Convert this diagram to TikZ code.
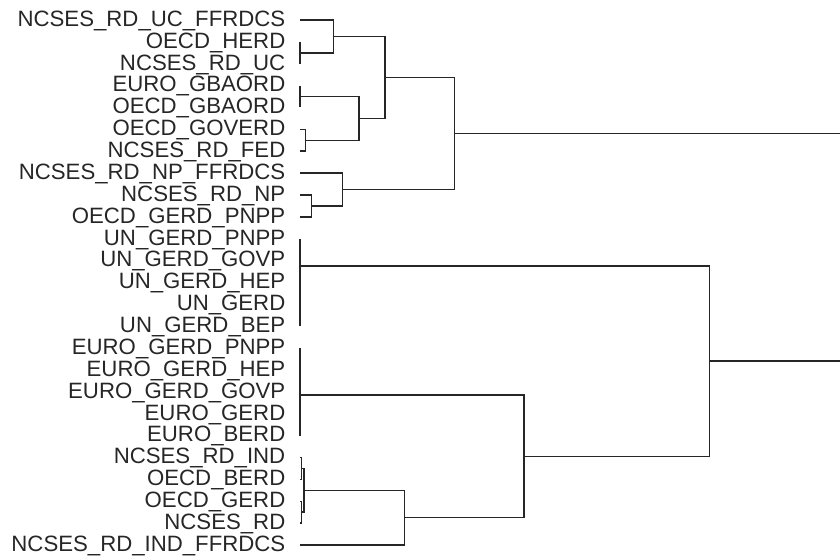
\documentclass[tikz,border=0pt]{standalone}
\usepackage{fontspec}
\setmainfont{Liberation Sans}
\begin{document}
\begin{tikzpicture}[x=1pt,y=-1pt,
  lbl/.style={anchor=east,inner sep=0pt,font=\fontsize{22.2}{22}\selectfont,text=black!85},
  link/.style={draw=black!85,line width=1.5pt}]
\useasboundingbox (0,0) rectangle (840,556);
% leaves
\foreach \i/\t in {1/NCSES\_RD\_UC\_FFRDCS,2/OECD\_HERD,3/NCSES\_RD\_UC,4/EURO\_GBAORD,5/OECD\_GBAORD,6/OECD\_GOVERD,7/NCSES\_RD\_FED,8/NCSES\_RD\_NP\_FFRDCS,9/NCSES\_RD\_NP,10/OECD\_GERD\_PNPP,11/UN\_GERD\_PNPP,12/UN\_GERD\_GOVP,13/UN\_GERD\_HEP,14/UN\_GERD,15/UN\_GERD\_BEP,16/EURO\_GERD\_PNPP,17/EURO\_GERD\_HEP,18/EURO\_GERD\_GOVP,19/EURO\_GERD,20/EURO\_BERD,21/NCSES\_RD\_IND,22/OECD\_BERD,23/OECD\_GERD,24/NCSES\_RD,25/NCSES\_RD\_IND\_FFRDCS}{
  \pgfmathsetmacro{\yy}{20+(\i-1)*21.875}
  \coordinate (L\i) at (300,\yy);
  \node[lbl] (t\i) at (285.5,\yy+0.8) {\t};
}
% merge points
\coordinate (A) at (300,52.8);
\coordinate (B) at (333.3,36.4);
\coordinate (C) at (300,96.6);
\coordinate (D) at (305.7,140.3);
\coordinate (E) at (359,118.5);
\coordinate (F) at (385,77.4);
\coordinate (G) at (311.7,206);
\coordinate (H) at (342.3,189.5);
\coordinate (I) at (454.3,133.5);
\coordinate (M1) at (300,266);
\coordinate (M2) at (300,395);
\coordinate (J) at (301.6,468.4);
\coordinate (K) at (301.6,512.2);
\coordinate (Lm) at (303.8,490.3);
\coordinate (N) at (404.3,517.6);
\coordinate (O) at (524,456.3);
\coordinate (P) at (709.3,361.2);
\coordinate (R1) at (840,133.5);
\coordinate (R2) at (840,361.2);
% links
\draw[link] (L2) -- (L3);
\draw[link] (L1) -| (B);
\draw[link] (A) -| (B);
\draw[link] (L4) -- (L5);
\draw[link] (L6) -| (D);
\draw[link] (L7) -| (D);
\draw[link] (C) -| (E);
\draw[link] (D) -| (E);
\draw[link] (B) -| (F);
\draw[link] (E) -| (F);
\draw[link] (L9) -| (G);
\draw[link] (L10) -| (G);
\draw[link] (L8) -| (H);
\draw[link] (G) -| (H);
\draw[link] (F) -| (I);
\draw[link] (H) -| (I);
\draw[link] (I) -- (R1);
\draw[link] (L11) -- (L15);
\draw[link] (L16) -- (L20);
\draw[link] (L21) -| (J);
\draw[link] (L22) -| (J);
\draw[link] (L23) -| (K);
\draw[link] (L24) -| (K);
\draw[link] (J) -| (Lm);
\draw[link] (K) -| (Lm);
\draw[link] (Lm) -| (N);
\draw[link] (L25) -| (N);
\draw[link] (M2) -| (O);
\draw[link] (N) -| (O);
\draw[link] (M1) -| (P);
\draw[link] (O) -| (P);
\draw[link] (P) -- (R2);
\end{tikzpicture}
\end{document}
